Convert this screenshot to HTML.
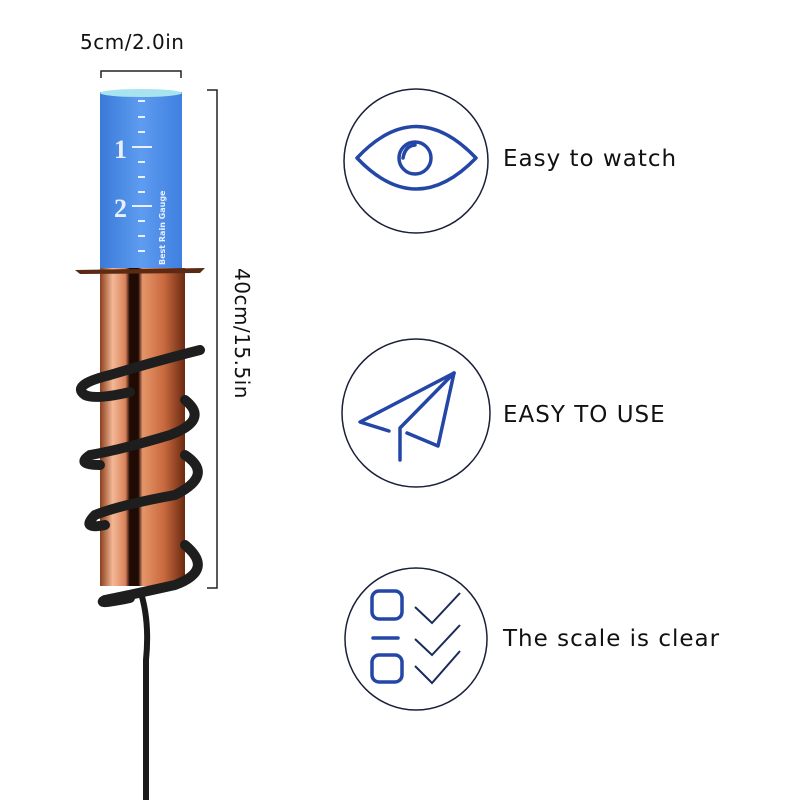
<!DOCTYPE html>
<html><head><style>
body{margin:0;width:800px;height:800px;background:#fff;overflow:hidden;position:relative;font-family:"DejaVu Sans","Liberation Sans",sans-serif}
.t{position:absolute;font-size:23px;color:#111;letter-spacing:1px}
</style></head><body>
<svg width="800" height="800" style="position:absolute;left:0;top:0">
<defs>
<linearGradient id="cu" x1="0" x2="1">
<stop offset="0" stop-color="#8a3f1c"/><stop offset="0.15" stop-color="#f4b896"/><stop offset="0.3" stop-color="#d9825a"/>
<stop offset="0.35" stop-color="#200a04"/><stop offset="0.45" stop-color="#200a04"/><stop offset="0.5" stop-color="#e6956a"/>
<stop offset="0.75" stop-color="#c96a40"/><stop offset="1" stop-color="#6a2a10"/></linearGradient>
<linearGradient id="bl" x1="0" x2="1"><stop offset="0" stop-color="#3a7ad8"/><stop offset="0.5" stop-color="#5e9cf0"/><stop offset="1" stop-color="#3f7fe0"/></linearGradient>
</defs>
<path d="M101 78 V71 H181 V78" fill="none" stroke="#222" stroke-width="1.5"/>
<path d="M207 90 H217 V588 H207" fill="none" stroke="#222" stroke-width="1.5"/>
<rect x="100" y="92" width="82" height="178" fill="url(#bl)"/>
<ellipse cx="141" cy="93" rx="41" ry="4" fill="#a8e4f0"/>
<g stroke="#e8f0ff" stroke-width="2">
<line x1="138" y1="101" x2="145" y2="101"/><line x1="138" y1="117" x2="145" y2="117"/><line x1="138" y1="132" x2="145" y2="132"/>
<line x1="132" y1="147" x2="152" y2="147"/><line x1="138" y1="162" x2="145" y2="162"/><line x1="138" y1="177" x2="145" y2="177"/>
<line x1="138" y1="192" x2="145" y2="192"/><line x1="132" y1="206" x2="152" y2="206"/><line x1="138" y1="221" x2="145" y2="221"/>
<line x1="138" y1="236" x2="145" y2="236"/><line x1="138" y1="251" x2="145" y2="251"/></g>
<text x="114" y="158" fill="#e8f0ff" font-family="Liberation Serif" font-size="26" font-weight="bold">1</text>
<text x="114" y="217" fill="#e8f0ff" font-family="Liberation Serif" font-size="26" font-weight="bold">2</text>
<text transform="translate(165,265) rotate(-90)" fill="#e8f0ff" font-size="8" font-weight="bold">Best Rain Gauge</text>
<rect x="100" y="268" width="85" height="318" fill="url(#cu)"/>
<path d="M75 270 L205 268 L200 273 L80 274 Z" fill="#5a2a14"/>
<path d="M140 590 Q150 620 146 660 L146 800" fill="none" stroke="#1a1a1a" stroke-width="6"/>
<g fill="none" stroke="#1e1e1e" stroke-width="10" stroke-linecap="round">
<path d="M200 350 Q160 360 110 375 Q70 385 85 395 Q95 400 130 392"/>
<path d="M185 400 Q210 420 170 435 Q120 450 90 455 Q75 465 100 465"/>
<path d="M185 455 Q215 475 175 495 Q120 505 95 515 Q80 530 105 525"/>
<path d="M185 545 Q215 570 175 585 Q130 595 105 600 Q95 605 130 598"/>
</g>
<g fill="none" stroke="#1a1f3a" stroke-width="1.5">
<circle cx="416" cy="161" r="72"/><circle cx="416" cy="413" r="74"/><circle cx="416" cy="639" r="71"/>
</g>
<g fill="none" stroke="#2446a6" stroke-width="3.5" stroke-linecap="round" stroke-linejoin="round">
<path d="M357 158 Q416 95 476 158 Q416 220 357 158 Z"/>
<circle cx="415" cy="158" r="16"/>
<path d="M403 158 Q405 146 415 145"/>
<path d="M454 373 L360 422 L389 431"/>
<path d="M454 373 L400 428 L400 460"/>
<path d="M407 433 L438 446 L454 373"/>
<rect x="372" y="591" width="30" height="28" rx="7"/>
<rect x="372" y="655" width="30" height="27" rx="7"/>
<line x1="373" y1="638" x2="398" y2="638"/>
</g>
<g fill="none" stroke="#1a2a5a" stroke-width="2">
<path d="M415 607 L432 623 L460 593"/><path d="M415 639 L432 655 L460 625"/><path d="M415 666 L432 683 L460 651"/>
</g>
</svg>
<div class="t" style="left:80px;top:30px;font-size:20px;letter-spacing:0.5px">5cm/2.0in</div>
<div class="t" style="left:230px;top:268px;font-size:20px;transform-origin:0 0;transform:rotate(90deg) translate(0,-24px);letter-spacing:0.5px">40cm/15.5in</div>
<div class="t" style="left:503px;top:146px">Easy to watch</div>
<div class="t" style="left:503px;top:402px">EASY TO USE</div>
<div class="t" style="left:503px;top:626px">The scale is clear</div>
</body></html>
